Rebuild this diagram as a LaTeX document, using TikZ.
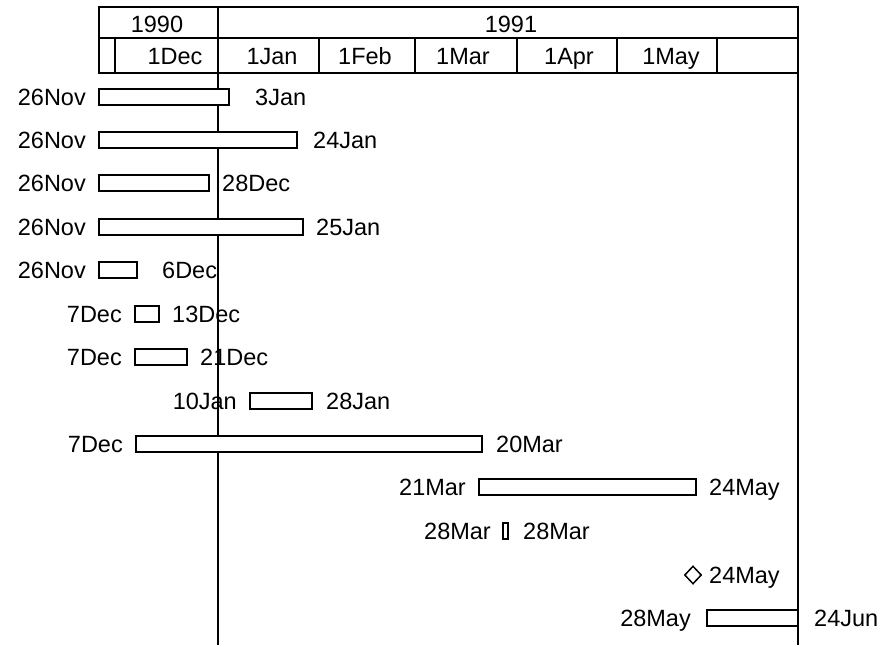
\documentclass[tikz,border=0pt]{standalone}
\usepackage{fontspec}
\setmainfont{Liberation Sans}
\usetikzlibrary{shapes.geometric}
\begin{document}
\begin{tikzpicture}[x=1pt,y=-1pt,
  grid/.style={line width=1.8pt},
  bar/.style={draw=black,fill=white,line width=1.5pt},
  lbl/.style={inner sep=0pt,font=\fontsize{23.5}{28}\selectfont},
  lft/.style={lbl,anchor=base east},
  rgt/.style={lbl,anchor=base west},
  hdr/.style={lbl,anchor=base},
  milestone/.style={draw=black,fill=white,line width=1.5pt,diamond,inner sep=0pt,minimum width=17pt,minimum height=18pt}]
\useasboundingbox (0,0) rectangle (894,647);
% header
\coordinate (hTL) at (99,7);
\coordinate (hBR) at (798,73);
\draw[grid] (hTL) rectangle (hBR);
\draw[grid] (99,38) -- (798,38);
\coordinate (jTop) at (218,7);
\coordinate (jBot) at (218,645);
\draw[grid] (jTop) -- (jBot);
\coordinate (rTop) at (798,73);
\coordinate (rBot) at (798,645);
\draw[grid] (rTop) -- (rBot);
\foreach \x in {115,319,415,517,617,717} \draw[grid] (\x,38) -- (\x,73);
\node[hdr] (y90) at (157,32.4) {1990};
\node[hdr] (y91) at (511,32.4) {1991};
\node[hdr] (mDec) at (175,64.4) {1Dec};
\node[hdr] (mJan) at (272,64.4) {1Jan};
\node[hdr] (mFeb) at (365,64.4) {1Feb};
\node[hdr] (mMar) at (463,64.4) {1Mar};
\node[hdr] (mApr) at (569,64.4) {1Apr};
\node[hdr] (mMay) at (671,64.4) {1May};
% rows: center y, baseline = y+8.4
% row 0
\draw[bar] (99,89) rectangle (229,105);
\node[lft] (l0) at (86,105.4) {26Nov};
\node[rgt] (r0) at (255,105.4) {3Jan};
% row 1
\draw[bar] (99,132) rectangle (297,148);
\node[lft] (l1) at (86,148.4) {26Nov};
\node[rgt] (r1) at (313,148.4) {24Jan};
% row 2
\draw[bar] (99,175) rectangle (209,191);
\node[lft] (l2) at (86,191.4) {26Nov};
\node[rgt] (r2) at (222,191.4) {28Dec};
% row 3
\draw[bar] (99,219) rectangle (303,235);
\node[lft] (l3) at (86,235.4) {26Nov};
\node[rgt] (r3) at (316,235.4) {25Jan};
% row 4
\draw[bar] (99,262) rectangle (137,278);
\node[lft] (l4) at (86,278.4) {26Nov};
\node[rgt] (r4) at (162,278.4) {6Dec};
% row 5
\draw[bar] (135,306) rectangle (159,322);
\node[lft] (l5) at (122,322.4) {7Dec};
\node[rgt] (r5) at (172,322.4) {13Dec};
% row 6
\draw[bar] (135,349) rectangle (187,365);
\node[lft] (l6) at (122,365.4) {7Dec};
\node[rgt] (r6) at (200,365.4) {21Dec};
% row 7
\draw[bar] (250,393) rectangle (312,409);
\node[lft] (l7) at (237,409.4) {10Jan};
\node[rgt] (r7) at (326,409.4) {28Jan};
% row 8
\draw[bar] (136,436) rectangle (482,452);
\node[lft] (l8) at (123,452.4) {7Dec};
\node[rgt] (r8) at (496,452.4) {20Mar};
% row 9
\draw[bar] (479,479) rectangle (696,495);
\node[lft] (l9) at (466,495.4) {21Mar};
\node[rgt] (r9) at (709,495.4) {24May};
% row 10
\draw[bar] (503,523) rectangle (508,539);
\node[lft] (l10) at (491,539.4) {28Mar};
\node[rgt] (r10) at (523,539.4) {28Mar};
% row 11
\node[milestone] (ms) at (693,575) {};
\node[rgt] (r11) at (709,583.4) {24May};
% row 12
\draw[bar] (707,610) rectangle (798,626);
\node[lft] (l12) at (691,626.4) {28May};
\node[rgt] (r12) at (814,626.4) {24Jun};
\end{tikzpicture}
\end{document}
